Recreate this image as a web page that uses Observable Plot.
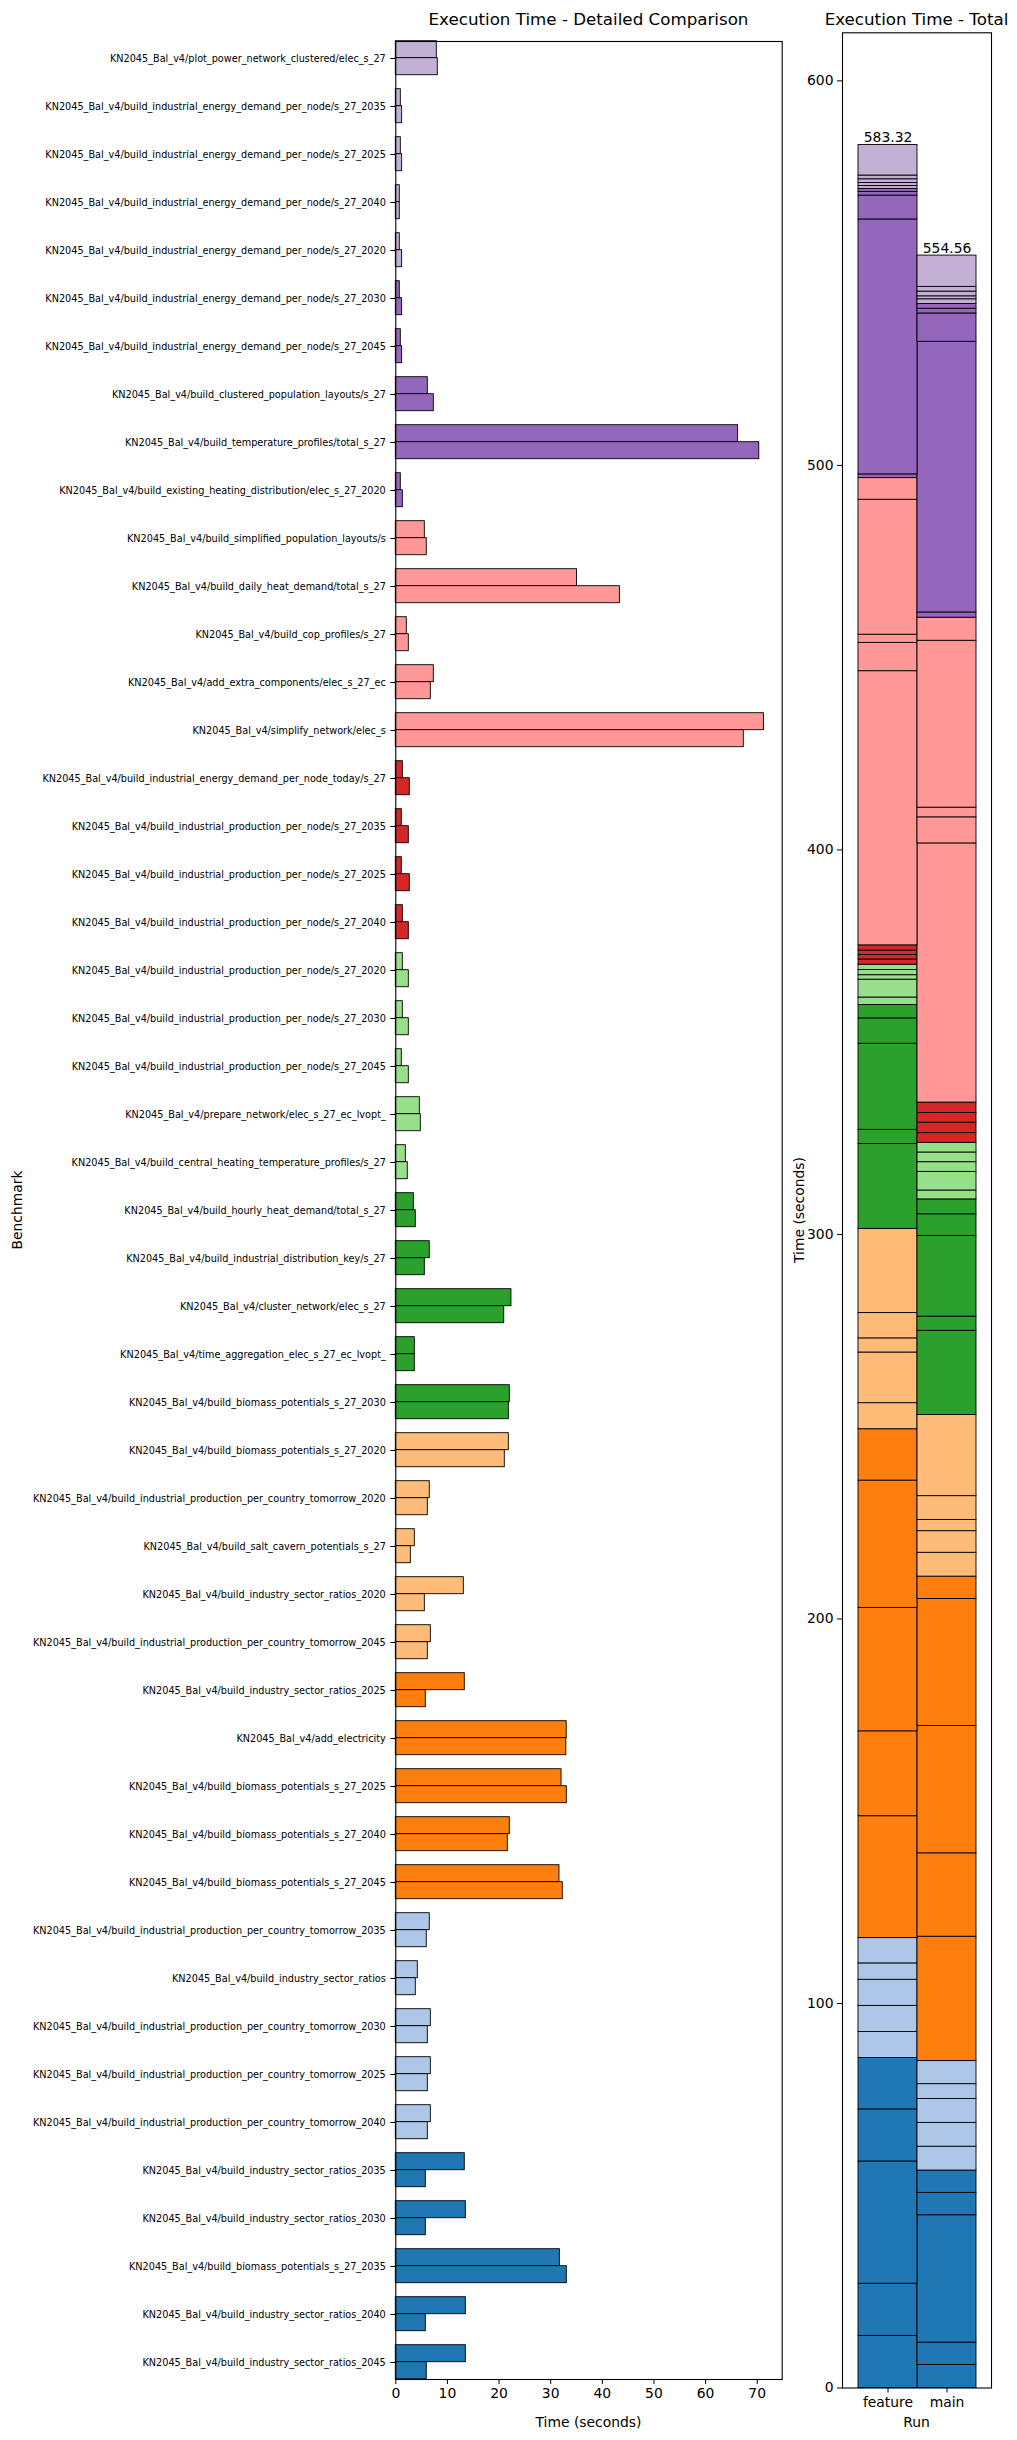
<!DOCTYPE html>
<html><head><meta charset="utf-8">
<script src="https://cdn.jsdelivr.net/npm/d3@7"></script>
<script src="https://cdn.jsdelivr.net/npm/@observablehq/plot@0.6"></script>
<style>
body{margin:0;background:#fff;font-family:"DejaVu Sans",sans-serif;}
#root{position:relative;width:1017px;height:2440px;overflow:hidden;background:#fff;}
#root svg{position:absolute;top:0;font-family:"DejaVu Sans",sans-serif;color:#000;background:transparent;}
</style></head><body><div id="root"></div>
<script>
const benchmarks = [
"KN2045_Bal_v4/plot_power_network_clustered/elec_s_27",
"KN2045_Bal_v4/build_industrial_energy_demand_per_node/s_27_2035",
"KN2045_Bal_v4/build_industrial_energy_demand_per_node/s_27_2025",
"KN2045_Bal_v4/build_industrial_energy_demand_per_node/s_27_2040",
"KN2045_Bal_v4/build_industrial_energy_demand_per_node/s_27_2020",
"KN2045_Bal_v4/build_industrial_energy_demand_per_node/s_27_2030",
"KN2045_Bal_v4/build_industrial_energy_demand_per_node/s_27_2045",
"KN2045_Bal_v4/build_clustered_population_layouts/s_27",
"KN2045_Bal_v4/build_temperature_profiles/total_s_27",
"KN2045_Bal_v4/build_existing_heating_distribution/elec_s_27_2020",
"KN2045_Bal_v4/build_simplified_population_layouts/s",
"KN2045_Bal_v4/build_daily_heat_demand/total_s_27",
"KN2045_Bal_v4/build_cop_profiles/s_27",
"KN2045_Bal_v4/add_extra_components/elec_s_27_ec",
"KN2045_Bal_v4/simplify_network/elec_s",
"KN2045_Bal_v4/build_industrial_energy_demand_per_node_today/s_27",
"KN2045_Bal_v4/build_industrial_production_per_node/s_27_2035",
"KN2045_Bal_v4/build_industrial_production_per_node/s_27_2025",
"KN2045_Bal_v4/build_industrial_production_per_node/s_27_2040",
"KN2045_Bal_v4/build_industrial_production_per_node/s_27_2020",
"KN2045_Bal_v4/build_industrial_production_per_node/s_27_2030",
"KN2045_Bal_v4/build_industrial_production_per_node/s_27_2045",
"KN2045_Bal_v4/prepare_network/elec_s_27_ec_lvopt_",
"KN2045_Bal_v4/build_central_heating_temperature_profiles/s_27",
"KN2045_Bal_v4/build_hourly_heat_demand/total_s_27",
"KN2045_Bal_v4/build_industrial_distribution_key/s_27",
"KN2045_Bal_v4/cluster_network/elec_s_27",
"KN2045_Bal_v4/time_aggregation_elec_s_27_ec_lvopt_",
"KN2045_Bal_v4/build_biomass_potentials_s_27_2030",
"KN2045_Bal_v4/build_biomass_potentials_s_27_2020",
"KN2045_Bal_v4/build_industrial_production_per_country_tomorrow_2020",
"KN2045_Bal_v4/build_salt_cavern_potentials_s_27",
"KN2045_Bal_v4/build_industry_sector_ratios_2020",
"KN2045_Bal_v4/build_industrial_production_per_country_tomorrow_2045",
"KN2045_Bal_v4/build_industry_sector_ratios_2025",
"KN2045_Bal_v4/add_electricity",
"KN2045_Bal_v4/build_biomass_potentials_s_27_2025",
"KN2045_Bal_v4/build_biomass_potentials_s_27_2040",
"KN2045_Bal_v4/build_biomass_potentials_s_27_2045",
"KN2045_Bal_v4/build_industrial_production_per_country_tomorrow_2035",
"KN2045_Bal_v4/build_industry_sector_ratios",
"KN2045_Bal_v4/build_industrial_production_per_country_tomorrow_2030",
"KN2045_Bal_v4/build_industrial_production_per_country_tomorrow_2025",
"KN2045_Bal_v4/build_industrial_production_per_country_tomorrow_2040",
"KN2045_Bal_v4/build_industry_sector_ratios_2035",
"KN2045_Bal_v4/build_industry_sector_ratios_2030",
"KN2045_Bal_v4/build_biomass_potentials_s_27_2035",
"KN2045_Bal_v4/build_industry_sector_ratios_2040",
"KN2045_Bal_v4/build_industry_sector_ratios_2045"
];
const featureTimes = [7.94,0.97,0.97,0.77,0.77,0.77,0.97,6.20,66.30,0.97,
5.62,35.10,2.13,7.36,71.30,1.36,1.16,1.16,1.36,1.36,
1.36,1.16,4.65,1.94,3.49,6.58,22.40,3.68,22.08,21.89,
6.58,3.68,13.17,6.78,13.36,33.10,32.10,22.08,31.70,6.58,
4.26,6.78,6.78,6.78,13.36,13.56,31.78,13.56,13.56];
const mainTimes = [8.13,1.23,1.23,0.77,1.23,1.23,1.23,7.36,70.40,1.36,
6.00,43.40,2.52,6.78,67.40,2.71,2.52,2.71,2.52,2.52,
2.52,2.52,4.84,2.32,3.87,5.62,21.00,3.68,21.89,21.11,
6.20,2.91,5.62,6.20,5.81,33.03,33.12,21.69,32.34,6.00,
3.87,6.20,6.20,6.20,5.81,5.81,33.12,5.81,6.00];
const colorGroups = [9,9,9,9,9,8,8,8,8,8,7,7,7,7,7,6,6,6,6,5,5,5,5,5,4,4,4,4,4,3,3,3,3,3,2,2,2,2,2,1,1,1,1,1,0,0,0,0,0];
const runs = ["feature","main"];
const timeTicks = [0,10,20,30,40,50,60,70];
const totalTicks = [0,100,200,300,400,500,600];
const palette = ["#1f77b4","#aec7e8","#ff7f0e","#ffbb78","#2ca02c","#98df8a","#d62728","#ff9896","#9467bd","#c5b0d5"];

const rows = benchmarks.flatMap((b, i) => [
  {bench: b, run: "feature", time: featureTimes[i], group: colorGroups[i]},
  {bench: b, run: "main", time: mainTimes[i], group: colorGroups[i]}
]);
const stackRows = rows.slice().reverse();
const totals = [
  {run: "feature", total: d3.sum(featureTimes)},
  {run: "main", total: d3.sum(mainTimes)}
];
const colorScale = {type: "ordinal", domain: d3.range(10), range: palette};

const root = document.getElementById("root");

const left = Plot.plot({
  width: 790, height: 2440,
  marginLeft: 395.3, marginRight: 790 - 781.7, marginTop: 32.3, marginBottom: 2440 - 2387.5,
  style: {background: "transparent", color: "#000"},
  fy: {domain: benchmarks, paddingInner: 0.3, paddingOuter: 0, axis: null, label: null},
  y: {domain: runs, padding: 0, axis: null},
  x: {domain: [0, 74.84], axis: null},
  color: colorScale,
  marks: [
    Plot.barX(rows, {fy: "bench", y: "run", x: "time", fill: "group", stroke: "black", strokeWidth: 0.9}),
    Plot.axisFy({anchor: "left", tickSize: 5, tickPadding: 5, fontSize: 9.7, label: null}),
    Plot.axisX({ticks: timeTicks, tickSize: 5, tickPadding: 4, fontSize: 13.9, label: null}),
    Plot.frame({facet: "super", stroke: "black", strokeWidth: 1.1})
  ]
});
left.style.left = "0px";
root.appendChild(left);

const right = Plot.plot({
  width: 227, height: 2440,
  marginLeft: 52, marginRight: 26, marginTop: 32.3, marginBottom: 2440 - 2387.5,
  style: {background: "transparent", color: "#000"},
  x: {domain: runs, paddingInner: 0, paddingOuter: 0.25, axis: null},
  y: {domain: [0, 612.5], axis: null},
  color: colorScale,
  marks: [
    Plot.barY(stackRows, {x: "run", y: "time", fill: "group", stroke: "black", strokeWidth: 0.9}),
    Plot.text(totals, {x: "run", y: "total", text: d => d.total.toFixed(2), lineAnchor: "bottom", dy: -3, fontSize: 13.9, fill: "black"}),
    Plot.axisY({ticks: totalTicks, tickSize: 5, tickPadding: 4, fontSize: 13.9, label: null}),
    Plot.axisX({tickSize: 5, tickPadding: 4, fontSize: 13.9, label: null}),
    Plot.frame({stroke: "black", strokeWidth: 1.1})
  ]
});
right.style.left = "790px";
root.appendChild(right);

// titles and axis labels
const ov = d3.select(root).append("svg")
  .attr("width", 1017).attr("height", 2440)
  .style("left", "0px").style("pointer-events", "none");
const labels = [
  {t: "Execution Time - Detailed Comparison", x: 588.5, y: 25, s: 16.7, r: 0},
  {t: "Execution Time - Total", x: 916.5, y: 25, s: 16.7, r: 0},
  {t: "Time (seconds)", x: 588.5, y: 2427, s: 13.9, r: 0},
  {t: "Run", x: 916.5, y: 2427, s: 13.9, r: 0},
  {t: "Benchmark", x: 22, y: 1210, s: 13.9, r: -90},
  {t: "Time (seconds)", x: 804, y: 1210, s: 13.9, r: -90}
];
ov.selectAll("text").data(labels).join("text")
  .attr("transform", d => `translate(${d.x},${d.y}) rotate(${d.r})`)
  .attr("text-anchor", "middle")
  .attr("font-size", d => d.s)
  .attr("font-family", "DejaVu Sans, sans-serif")
  .attr("fill", "#000")
  .text(d => d.t);
</script></body></html>
